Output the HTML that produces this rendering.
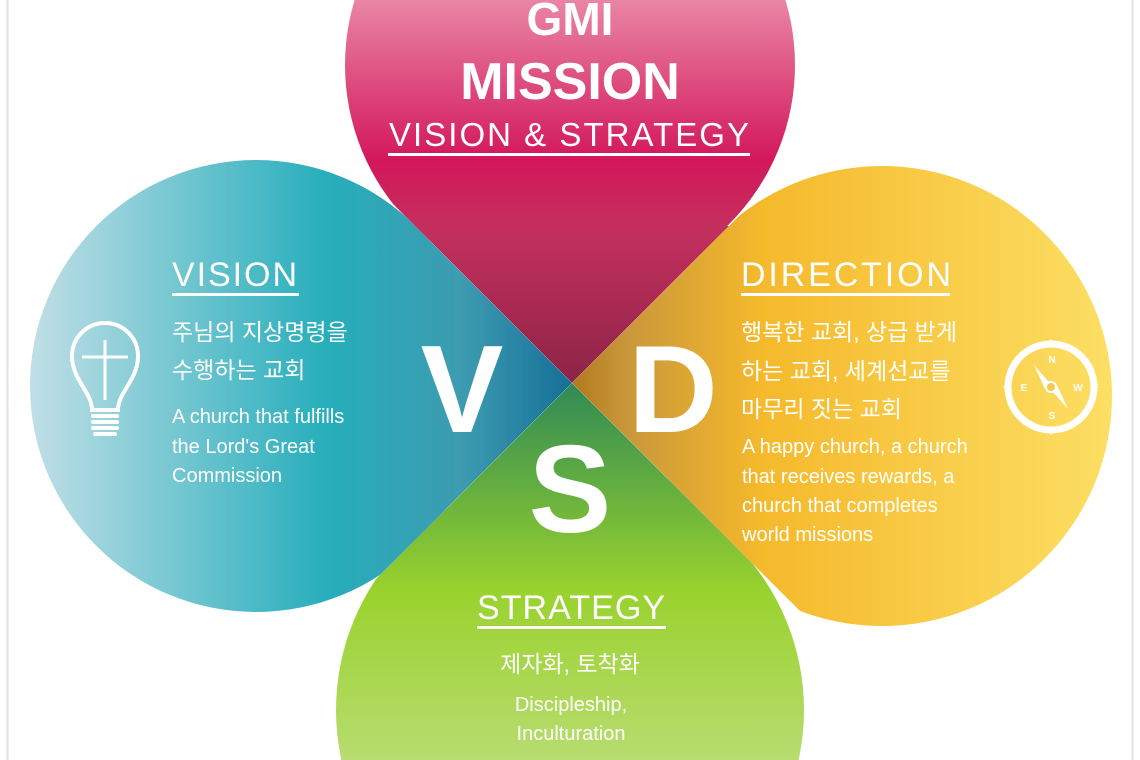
<!DOCTYPE html>
<html><head><meta charset="utf-8"><style>
html,body{margin:0;padding:0;background:#fff;width:1140px;height:760px;overflow:hidden}
svg{display:block}
text{font-family:"Liberation Sans","Noto Sans CJK KR",sans-serif;fill:#fff}
</style></head><body>
<svg width="1140" height="760" viewBox="0 0 1140 760" xmlns="http://www.w3.org/2000/svg" style="overflow:hidden">
<defs>
<linearGradient id="top" x1="0" y1="0" x2="0" y2="383" gradientUnits="userSpaceOnUse">
<stop offset="0" stop-color="#e985a5"/><stop offset="0.42" stop-color="#d3175a"/><stop offset="0.6" stop-color="#c4305e"/><stop offset="1" stop-color="#8c2446"/></linearGradient>
<linearGradient id="left" x1="28" y1="0" x2="572" y2="0" gradientUnits="userSpaceOnUse">
<stop offset="0" stop-color="#c2dfe7"/><stop offset="0.55" stop-color="#26aebb"/><stop offset="0.8" stop-color="#3d9bb0"/><stop offset="1" stop-color="#156f98"/></linearGradient>
<linearGradient id="right" x1="572" y1="0" x2="1114" y2="0" gradientUnits="userSpaceOnUse">
<stop offset="0" stop-color="#b07a1c"/><stop offset="0.1" stop-color="#c9973a"/><stop offset="0.35" stop-color="#f5b92c"/><stop offset="1" stop-color="#fcdf64"/></linearGradient>
<linearGradient id="bot" x1="0" y1="383" x2="0" y2="760" gradientUnits="userSpaceOnUse">
<stop offset="0" stop-color="#2f8a55"/><stop offset="0.55" stop-color="#99d22d"/><stop offset="1" stop-color="#b8dc70"/></linearGradient>
<clipPath id="cl"><polygon points="572,383 -428,-617 -428,1383"/></clipPath>
<clipPath id="ct"><polygon points="572,383 -428,-617 1572,-617"/></clipPath>
<clipPath id="cr"><polygon points="572,383 1572,-617 1572,1383"/></clipPath>
<clipPath id="cb"><polygon points="572,383 1572,1383 -428,1383"/></clipPath>
</defs>
<line x1="7.5" y1="0" x2="7.5" y2="760" stroke="#e2e2e2" stroke-width="2"/>
<line x1="1132.5" y1="0" x2="1132.5" y2="760" stroke="#e2e2e2" stroke-width="2"/>

<g fill="url(#top)" clip-path="url(#ct)">
<circle cx="570" cy="65" r="225"/>
<polygon points="572,383 415,226 729,226"/>
</g>
<g fill="url(#bot)" clip-path="url(#cb)">
<circle cx="570" cy="710" r="234"/>
<polygon points="572,383 733,544 411,544"/>
</g>
<g fill="url(#left)" clip-path="url(#cl)">
<circle cx="256" cy="386" r="226"/>
<polygon points="572,383 415,226 415,540"/>
</g>
<g fill="url(#right)" clip-path="url(#cr)">
<circle cx="882" cy="396" r="230"/>
<polygon points="572,383 729,226 729,540"/>
</g>

<!-- Title -->
<text x="570" y="35" text-anchor="middle" font-size="46" font-weight="bold">GMI</text>
<text x="570" y="99" text-anchor="middle" font-size="52" font-weight="bold">MISSION</text>
<text x="569" y="146" text-anchor="middle" font-size="33" textLength="360">VISION &amp; STRATEGY</text>
<rect x="388" y="153" width="362" height="3" fill="#fff"/>

<!-- Vision -->
<text x="172" y="286" font-size="34" textLength="125">VISION</text>
<rect x="172" y="293" width="127" height="3" fill="#fff"/>
<text x="172" y="340" font-size="23">주님의 지상명령을</text>
<text x="172" y="378" font-size="23">수행하는 교회</text>
<text x="172" y="423" font-size="20">A church that fulfills</text>
<text x="172" y="453" font-size="20">the Lord's Great</text>
<text x="172" y="482" font-size="20">Commission</text>

<!-- Direction -->
<text x="741" y="286" font-size="34" textLength="210">DIRECTION</text>
<rect x="741" y="293" width="209" height="3" fill="#fff"/>
<text x="741" y="340" font-size="23">행복한 교회, 상급 받게</text>
<text x="741" y="379" font-size="23">하는 교회, 세계선교를</text>
<text x="741" y="417" font-size="23">마무리 짓는 교회</text>
<text x="742" y="453" font-size="20">A happy church, a church</text>
<text x="742" y="483" font-size="20">that receives rewards, a</text>
<text x="742" y="512" font-size="20">church that completes</text>
<text x="742" y="541" font-size="20">world missions</text>

<!-- Big letters -->
<text x="462" y="432" text-anchor="middle" font-size="124" font-weight="bold">V</text>
<text x="673" y="432" text-anchor="middle" font-size="124" font-weight="bold">D</text>
<text x="570" y="532" text-anchor="middle" font-size="124" font-weight="bold">S</text>

<!-- Strategy -->
<text x="571" y="619" text-anchor="middle" font-size="34" textLength="188">STRATEGY</text>
<rect x="477" y="626" width="189" height="3" fill="#fff"/>
<text x="570" y="672" text-anchor="middle" font-size="23">제자화, 토착화</text>
<text x="571" y="711" text-anchor="middle" font-size="20">Discipleship,</text>
<text x="571" y="740" text-anchor="middle" font-size="20">Inculturation</text>

<!-- Bulb icon -->
<g fill="none" stroke="#fff" stroke-width="4">
<path d="M92,410 C92,392 72,380 72,356 A33,33 0 0 1 138,356 C138,380 118,392 118,410 Z"/>
<line x1="105" y1="340" x2="105" y2="400" stroke-width="3"/>
<line x1="82" y1="357" x2="128" y2="357" stroke-width="3"/>
</g>
<g fill="#fff">
<rect x="91" y="414" width="28" height="4" rx="2"/>
<rect x="91" y="420" width="28" height="4" rx="2"/>
<rect x="91" y="426" width="28" height="4" rx="2"/>
<rect x="93" y="432" width="24" height="4" rx="2"/>
</g>

<!-- Compass icon -->
<g transform="translate(1051,387)">
<circle r="43" fill="none" stroke="#fff" stroke-width="7"/>
<path d="M0,-48 L-5,-40 L5,-40 Z M0,48 L-5,40 L5,40 Z M-48,0 L-40,-5 L-40,5 Z M48,0 L40,-5 L40,5 Z" fill="#fff"/>
<text x="1" y="-24" text-anchor="middle" font-size="10" font-weight="bold">N</text>
<text x="1" y="32" text-anchor="middle" font-size="10" font-weight="bold">S</text>
<text x="-27" y="4" text-anchor="middle" font-size="10" font-weight="bold">E</text>
<text x="27" y="4" text-anchor="middle" font-size="10" font-weight="bold">W</text>
<path d="M-17,-22 L-6,2 L3,6 L17,22 L6,-2 L-3,-6 Z" fill="#fff"/>
<circle r="5" fill="#f8c94a" stroke="#fff" stroke-width="2"/>
</g>
</svg>
</body></html>
